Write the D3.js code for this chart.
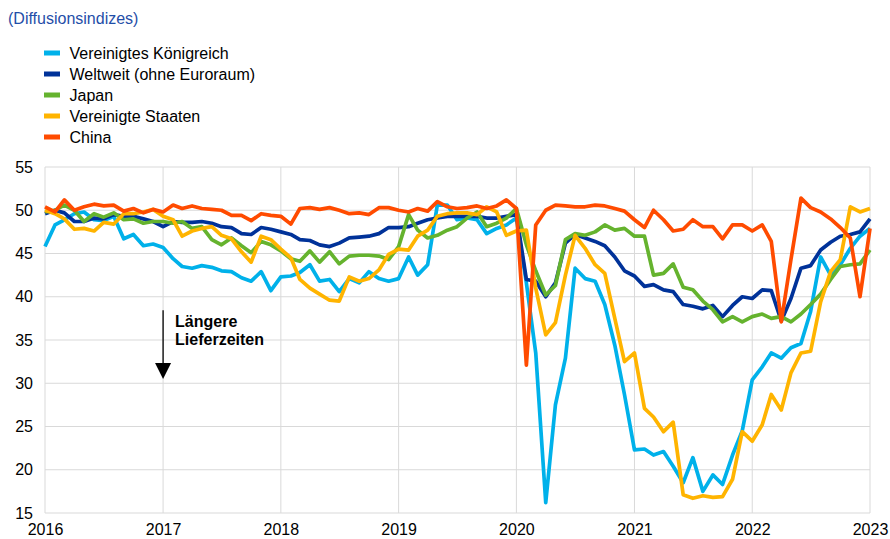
<!DOCTYPE html>
<html lang="de">
<head>
<meta charset="UTF-8">
<script src="https://d3js.org/d3.v7.min.js"></script>
<style>
  body { margin: 0; background: #fff; font-family: "Liberation Sans", Arial, sans-serif; }
  .grid line { stroke: #d9d9d9; stroke-width: 1; }
</style>
</head>
<body>
<div id="chart"></div>
<script>
// monthly, Jan 2016 - Jan 2023
var months = d3.timeMonth.range(new Date(2016, 0, 1), new Date(2023, 1, 1));

var uk = [45.8,48.3,48.9,49.6,49.8,48.9,48.8,49.3,46.7,47.2,45.9,46.1,
  45.7,44.4,43.5,43.3,43.6,43.4,43.0,42.9,42.2,41.8,42.9,40.7,
  42.3,42.4,42.8,43.7,41.8,42.0,40.6,42.1,41.6,42.9,42.1,41.8,
  42.1,44.6,42.5,43.7,50.6,50.6,48.9,49.1,48.9,47.3,47.9,48.3,
  49.1,41.6,33.5,16.2,27.5,32.9,43.3,42.1,41.8,39.1,34.4,28.7,
  22.3,22.4,21.7,22.1,20.4,18.5,21.4,17.5,19.4,18.3,21.7,24.5,
  30.4,31.9,33.5,32.9,34.1,34.6,38.3,44.6,42.5,43.7,45.6,47.0,47.9];

var weltweit = [49.6,50.0,49.7,48.7,48.7,49.1,49.0,49.5,49.3,49.3,49.0,48.7,
  48.1,48.7,48.6,48.6,48.7,48.5,48.1,48.0,47.3,47.2,48.0,47.8,
  47.5,47.2,46.6,46.5,46.0,45.8,46.2,46.8,46.9,47.0,47.3,48.0,
  48.0,48.1,48.5,48.9,49.1,49.3,49.3,49.3,49.3,49.1,49.1,49.3,
  49.5,42.0,41.8,40.0,41.6,46.2,47.2,46.8,46.4,45.9,44.6,43.0,
  42.4,41.2,41.4,40.8,40.6,39.1,38.9,38.6,39.0,37.7,39.0,40.0,
  39.8,40.8,40.7,37.2,39.8,43.3,43.6,45.4,46.3,47.0,47.2,47.5,49.0];

var japan = [49.8,50.0,50.6,50.0,48.7,49.6,49.2,49.7,48.9,49.0,48.5,48.7,
  48.7,48.5,48.7,47.9,48.1,46.6,46.0,46.8,45.9,45.1,46.4,46.0,
  45.3,44.4,44.1,45.3,44.0,45.2,43.8,44.7,44.8,44.8,44.7,44.3,
  45.8,49.5,47.7,46.8,47.1,47.7,48.1,49.1,49.8,48.1,48.5,49.1,
  50.2,46.0,43.0,40.2,41.3,46.6,47.3,47.1,47.5,48.3,47.7,47.9,
  47.0,47.0,42.5,42.7,43.8,41.1,40.8,39.5,38.5,37.1,37.7,37.1,
  37.7,38.0,37.5,37.7,37.1,38.0,39.1,40.3,42.0,43.5,43.7,43.8,45.4];

var usa = [50.0,49.6,49.0,47.8,47.9,47.6,48.6,48.4,49.6,49.6,49.8,50.1,
  49.3,48.9,47.0,47.6,47.9,48.1,47.1,46.7,45.2,44.0,47.0,46.6,
  45.5,44.5,42.0,41.0,40.3,39.6,39.5,42.3,41.8,42.1,43.1,44.9,
  45.5,45.4,47.0,47.7,49.3,49.6,49.7,49.7,49.5,50.4,49.8,47.1,
  47.6,47.7,41.0,35.6,37.0,42.5,47.1,45.6,43.7,42.7,37.5,32.5,
  33.5,27.1,26.1,24.4,25.5,17.1,16.7,17.0,16.8,16.9,18.9,24.4,
  23.3,25.2,28.7,26.9,31.2,33.5,33.7,39.4,42.9,44.3,50.4,49.8,50.2];

var china = [50.4,49.8,51.2,50.0,50.4,50.7,50.5,50.6,49.9,50.2,49.7,50.1,
  49.8,50.6,50.2,50.5,50.2,50.1,50.0,49.4,49.4,48.8,49.6,49.4,
  49.3,48.4,50.2,50.3,50.1,50.3,50.0,49.6,49.7,49.5,50.3,50.3,
  50.0,49.8,50.2,49.9,51.0,50.4,50.2,50.3,50.5,50.2,50.5,51.2,
  50.2,32.1,48.3,50.0,50.6,50.5,50.4,50.4,50.6,50.5,50.2,49.9,
  48.9,48.0,50.0,48.9,47.6,47.8,48.9,48.1,48.1,46.7,48.3,48.3,
  47.6,48.3,46.4,37.1,44.3,51.4,50.3,49.8,49.0,48.0,46.8,40.0,47.9];

var seriesNames = ["Vereinigtes Königreich", "Weltweit (ohne Euroraum)", "Japan", "Vereinigte Staaten", "China"];
var seriesValues = [uk, weltweit, japan, usa, china];
var seriesColors = ["#00b1ea", "#003299", "#65b32e", "#ffb400", "#ff4b00"];

var yTicks = [15, 20, 25, 30, 35, 40, 45, 50, 55];
var xTicks = [2016, 2017, 2018, 2019, 2020, 2021, 2022, 2023];

var W = 890, H = 539;
var margin = {top: 167, right: 20, bottom: 26, left: 45};
var width = W - margin.left - margin.right,
    height = H - margin.top - margin.bottom;

var svg = d3.select("#chart").append("svg")
    .attr("width", W)
    .attr("height", H);

// title
svg.append("text")
    .attr("x", 8).attr("y", 24)
    .text("(Diffusionsindizes)")
    .style("font-size", "16px")
    .style("fill", "#1f4ea8");

// legend
var legend = svg.append("g").attr("transform", "translate(44,53)");
seriesNames.forEach(function(name, i) {
  legend.append("rect")
      .attr("x", 0).attr("y", i * 21 - 2.5)
      .attr("width", 16).attr("height", 5)
      .style("fill", seriesColors[i]);
  legend.append("text")
      .attr("x", 25.5).attr("y", i * 21 + 6)
      .text(name)
      .style("font-size", "16px")
      .style("fill", "#000");
});

var g = svg.append("g")
    .attr("transform", "translate(" + margin.left + "," + margin.top + ")");

var x = d3.scaleTime()
    .domain([new Date(2016, 0, 1), new Date(2023, 0, 1)])
    .range([0, width]);
var y = d3.scaleLinear()
    .domain([15, 55])
    .range([height, 0]);

// grid
g.append("g").attr("class", "grid")
  .selectAll("line.h").data(yTicks).enter().append("line")
    .attr("x1", 0).attr("x2", width)
    .attr("y1", function(d) { return y(d); })
    .attr("y2", function(d) { return y(d); });
g.append("g").attr("class", "grid")
  .selectAll("line.v").data(xTicks).enter().append("line")
    .attr("x1", function(d) { return x(new Date(d, 0, 1)); })
    .attr("x2", function(d) { return x(new Date(d, 0, 1)); })
    .attr("y1", 0).attr("y2", height);

// axes (labels only)
var yAxis = g.append("g")
    .call(d3.axisLeft(y).tickValues(yTicks).tickSize(0).tickPadding(12));
yAxis.select(".domain").remove();

var xAxis = g.append("g")
    .attr("transform", "translate(0," + height + ")")
    .call(d3.axisBottom(x)
      .tickValues(xTicks.map(function(d) { return new Date(d, 0, 1); }))
      .tickFormat(d3.timeFormat("%Y"))
      .tickSize(0).tickPadding(11));
xAxis.select(".domain").remove();
g.selectAll(".tick text")
    .style("font-family", "'Liberation Sans', Arial, sans-serif")
    .style("font-size", "16px")
    .style("fill", "#000");

// lines
var line = d3.line()
    .x(function(d, i) { return x(months[i]); })
    .y(function(d) { return y(d); });

seriesValues.forEach(function(vals, i) {
  g.append("path")
      .datum(vals)
      .attr("d", line)
      .style("fill", "none")
      .style("stroke", seriesColors[i])
      .style("stroke-width", 3.7)
      .style("stroke-linejoin", "round");
});

// annotation arrow
var ax = x(new Date(2017, 0, 1));
g.append("line")
    .attr("x1", ax).attr("x2", ax)
    .attr("y1", y(38.45)).attr("y2", y(32.2))
    .style("stroke", "#000").style("stroke-width", 1.3);
g.append("path")
    .attr("d", "M" + (ax - 8) + "," + y(32.35) + " L" + (ax + 8) + "," + y(32.35) + " L" + ax + "," + y(30.5) + " Z")
    .style("fill", "#000");
g.append("text")
    .attr("x", ax + 12).attr("y", y(36.5))
    .text("Längere")
    .style("font-size", "16px").style("font-weight", "bold");
g.append("text")
    .attr("x", ax + 12).attr("y", y(34.45))
    .text("Lieferzeiten")
    .style("font-size", "16px").style("font-weight", "bold");
</script>
</body>
</html>
